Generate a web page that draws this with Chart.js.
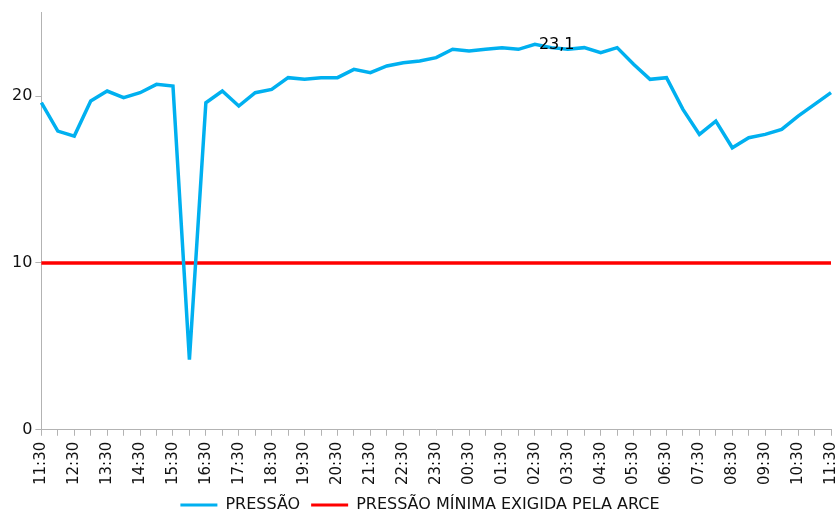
<!DOCTYPE html>
<html><head><meta charset="utf-8">
<script src="https://cdn.jsdelivr.net/npm/chart.js@4"></script>
<style>html,body{margin:0;padding:0;background:#fff}#wrap{width:839px;height:513px;position:relative}</style>
</head><body><div id="wrap"><canvas id="c"></canvas></div>
<script>
const timeLabels = ["11:30","12:00","12:30","13:00","13:30","14:00","14:30","15:00","15:30","16:00","16:30","17:00","17:30","18:00","18:30","19:00","19:30","20:00","20:30","21:00","21:30","22:00","22:30","23:00","23:30","00:00","00:30","01:00","01:30","02:00","02:30","03:00","03:30","04:00","04:30","05:00","05:30","06:00","06:30","07:00","07:30","08:00","08:30","09:00","09:30","10:00","10:30","11:00","11:30"];
const pressao = [19.6,17.9,17.6,19.7,20.3,19.9,20.2,20.7,20.6,4.2,19.6,20.3,19.4,20.2,20.4,21.1,21.0,21.1,21.1,21.6,21.4,21.8,22.0,22.1,22.3,22.8,22.7,22.8,22.9,22.8,23.1,22.9,22.8,22.9,22.6,22.9,21.9,21.0,21.1,19.2,17.7,18.5,16.9,17.5,17.7,18.0,18.8,19.5,20.2];
const pressaoMinima = [10,10,10,10,10,10,10,10,10,10,10,10,10,10,10,10,10,10,10,10,10,10,10,10,10,10,10,10,10,10,10,10,10,10,10,10,10,10,10,10,10,10,10,10,10,10,10,10,10];
const yTickValues = [0,10,20];
const seriesNames = ["PRESSÃO","PRESSÃO MÍNIMA EXIGIDA PELA ARCE"];

const FONT = "'DejaVu Sans', sans-serif";
const axisGray = "#b3b3b3";

const maxLabelPlugin = {
  id: 'maxLabel',
  afterDatasetsDraw(chart) {
    const meta = chart.getDatasetMeta(0);
    let mi = 0;
    pressao.forEach((v, i) => { if (v > pressao[mi]) mi = i; });
    const pt = meta.data[mi];
    const ctx = chart.ctx;
    ctx.save();
    ctx.font = "16px " + FONT;
    ctx.fillStyle = "#000";
    ctx.textAlign = "left";
    ctx.textBaseline = "middle";
    ctx.fillText(pressao[mi].toFixed(1).replace('.', ','), pt.x + 4, pt.y + 1);
    ctx.restore();
  }
};

new Chart(document.getElementById('c'), {
  type: 'line',
  data: {
    labels: timeLabels,
    datasets: [
      { label: seriesNames[0], data: pressao, borderColor: '#00b0f0', backgroundColor: '#00b0f0', borderWidth: 3.5, pointRadius: 0, tension: 0 },
      { label: seriesNames[1], data: pressaoMinima, borderColor: '#ff0000', backgroundColor: '#ff0000', borderWidth: 3.5, pointRadius: 0, tension: 0 }
    ]
  },
  options: {
    responsive: true,
    maintainAspectRatio: false,
    animation: false,
    layout: { padding: { top: 12, right: 8, left: 9, bottom: -10 } },
    plugins: {
      tooltip: { enabled: false },
      legend: {
        position: 'bottom',
        labels: {
          font: { family: FONT, size: 16 }, color: '#111', boxWidth: 37, boxHeight: 3, padding: 11,
          generateLabels: (chart) => Chart.defaults.plugins.legend.labels.generateLabels(chart).map(l => Object.assign(l, { lineWidth: 0 }))
        }
      }
    },
    scales: {
      x: {
        offset: false,
        afterFit: (s) => { s.paddingRight = 0; s.paddingLeft = 0; s.height -= 5; },
        grid: { drawOnChartArea: false, drawTicks: true, tickLength: 6, color: axisGray },
        border: { color: axisGray, width: 1 },
        ticks: {
          autoSkip: false, minRotation: 90, maxRotation: 90, padding: 6,
          font: { family: FONT, size: 15 }, color: '#111',
          callback: function(v, i) { const l = timeLabels[i]; return l.endsWith(':30') ? l : ''; }
        }
      },
      y: {
        min: 0, max: 25,
        afterBuildTicks: (s) => { s.ticks = yTickValues.map(v => ({ value: v })); },
        grid: { drawOnChartArea: false, drawTicks: true, tickLength: 6, color: axisGray },
        border: { color: axisGray, width: 1 },
        ticks: { font: { family: FONT, size: 16 }, color: '#111', padding: 3 }
      }
    }
  },
  plugins: [maxLabelPlugin]
});
</script>
</body></html>
